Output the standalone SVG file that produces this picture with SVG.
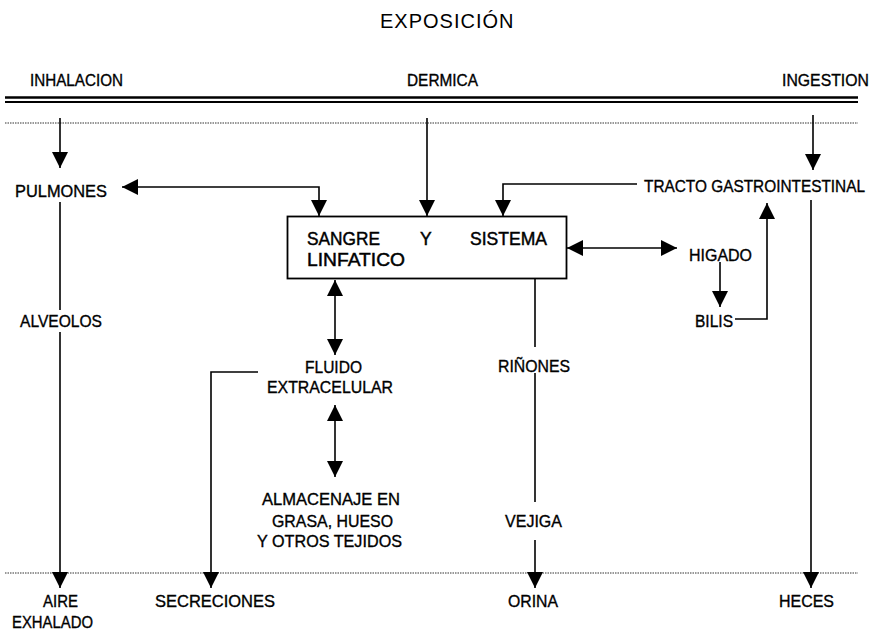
<svg xmlns="http://www.w3.org/2000/svg" width="872" height="639" viewBox="0 0 872 639">
<defs>
<marker id="ah" markerUnits="userSpaceOnUse" markerWidth="16" markerHeight="16" refX="15" refY="7.5" orient="auto-start-reverse" viewBox="0 0 15 15">
<path d="M0,0 L15,7.5 L0,15 z" fill="#000"/>
</marker>
</defs>
<style>
text{font-family:"Liberation Sans",Arial,sans-serif;fill:#000;}
.lb{font-size:17px;stroke:#000;stroke-width:0.35;}
.bx{font-size:17.5px;stroke:#000;stroke-width:0.45;}
.ti{font-size:20px;letter-spacing:1px;}
.c{fill:none;stroke:#000;stroke-width:1.6;}
.a{marker-end:url(#ah);}
.d{marker-start:url(#ah);marker-end:url(#ah);}
.dot{fill:none;stroke:#333;stroke-width:1;stroke-dasharray:1.5 1;}
</style>
<rect width="872" height="639" fill="#fff"/>
<g id="title"><text class="ti" x="380" y="28">EXPOSICIÓN</text></g>
<g id="inhalacion"><text class="lb" x="30" y="86" textLength="93" lengthAdjust="spacingAndGlyphs">INHALACION</text></g>
<g id="dermica"><text class="lb" x="407" y="86" textLength="71" lengthAdjust="spacingAndGlyphs">DERMICA</text></g>
<g id="ingestion"><text class="lb" transform="translate(782,86) scale(0.93,1)" x="0" y="0">INGESTION</text></g>
<g id="borders">
<line x1="5" y1="97.5" x2="858" y2="97.5" stroke="#000" stroke-width="2.5"/>
<line x1="5" y1="102" x2="858" y2="102" stroke="#000" stroke-width="2"/>
<line class="dot" x1="5" y1="123" x2="858" y2="123"/>
<line class="dot" x1="5" y1="573" x2="858" y2="573"/>
</g>
<g id="pulmones"><text class="lb" x="15" y="197" textLength="92" lengthAdjust="spacingAndGlyphs">PULMONES</text></g>
<g id="alveolos"><text class="lb" x="20" y="327" textLength="82" lengthAdjust="spacingAndGlyphs">ALVEOLOS</text></g>
<g id="tracto"><text class="lb" transform="translate(644,192) scale(0.905,1)" x="0" y="0">TRACTO GASTROINTESTINAL</text></g>
<g id="sangre">
<rect x="287.5" y="216.5" width="279" height="62" fill="none" stroke="#000" stroke-width="1.8"/>
<text class="bx" x="307" y="245" textLength="73" lengthAdjust="spacingAndGlyphs">SANGRE</text>
<text class="bx" x="420" y="245">Y</text>
<text class="bx" x="470" y="245" textLength="77" lengthAdjust="spacingAndGlyphs">SISTEMA</text>
<text class="bx" x="307" y="266" textLength="98" lengthAdjust="spacingAndGlyphs">LINFATICO</text>
</g>
<g id="higado"><text class="lb" x="689" y="261" textLength="63" lengthAdjust="spacingAndGlyphs">HIGADO</text></g>
<g id="bilis"><text class="lb" x="695" y="327" textLength="38" lengthAdjust="spacingAndGlyphs">BILIS</text></g>
<g id="fluido">
<text class="lb" x="305" y="373" textLength="57" lengthAdjust="spacingAndGlyphs">FLUIDO</text>
<text class="lb" x="267" y="393" textLength="126" lengthAdjust="spacingAndGlyphs">EXTRACELULAR</text>
</g>
<g id="rinones"><text class="lb" x="498" y="372" textLength="72" lengthAdjust="spacingAndGlyphs">RIÑONES</text></g>
<g id="almacenaje">
<text class="lb" x="262" y="505" textLength="138" lengthAdjust="spacingAndGlyphs">ALMACENAJE EN</text>
<text class="lb" x="272" y="527" textLength="121" lengthAdjust="spacingAndGlyphs">GRASA, HUESO</text>
<text class="lb" x="257" y="547" textLength="145" lengthAdjust="spacingAndGlyphs">Y OTROS TEJIDOS</text>
</g>
<g id="vejiga"><text class="lb" x="505" y="527" textLength="57" lengthAdjust="spacingAndGlyphs">VEJIGA</text></g>
<g id="aire">
<text class="lb" x="43" y="607" textLength="35" lengthAdjust="spacingAndGlyphs">AIRE</text>
<text class="lb" x="12" y="628" textLength="81" lengthAdjust="spacingAndGlyphs">EXHALADO</text>
</g>
<g id="secreciones"><text class="lb" x="155" y="607" textLength="120" lengthAdjust="spacingAndGlyphs">SECRECIONES</text></g>
<g id="orina"><text class="lb" x="508" y="607" textLength="50" lengthAdjust="spacingAndGlyphs">ORINA</text></g>
<g id="heces"><text class="lb" x="779" y="607" textLength="55" lengthAdjust="spacingAndGlyphs">HECES</text></g>
<g id="connectors">
<path class="c a" d="M60,118 V168"/>
<path class="c" d="M60,202 V310"/>
<path class="c a" d="M60,332 V588"/>
<path class="c d" d="M122,187 H319 V216"/>
<path class="c a" d="M427,118 V216"/>
<path class="c a" d="M637,184 H503 V216"/>
<path class="c a" d="M813,115 V170"/>
<path class="c a" d="M811,200 V588"/>
<path class="c d" d="M567,248 H677"/>
<path class="c a" d="M720,262 V307"/>
<path class="c a" d="M735,319 H767 V203"/>
<path class="c d" d="M335,280 V355"/>
<path class="c d" d="M335,405 V477"/>
<path class="c a" d="M258,372 H211 V588"/>
<path class="c" d="M535,278 V347"/>
<path class="c" d="M535,373 V502"/>
<path class="c a" d="M535,540 V588"/>
</g>
</svg>
